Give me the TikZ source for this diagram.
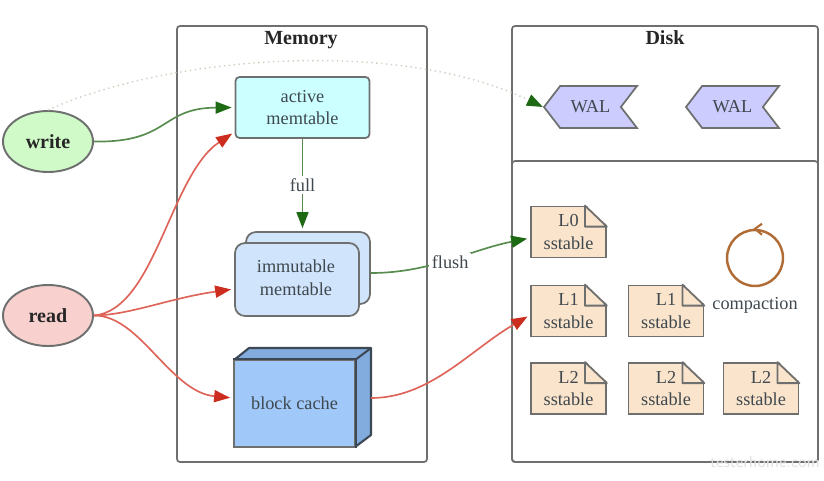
\documentclass[tikz,border=0pt]{standalone}
\usepackage{fontspec}
\setmainfont{Liberation Serif}
\usepackage{tikz}
\usetikzlibrary{shapes.geometric,shapes.symbols,arrows.meta,positioning,calc}
\definecolor{linegray}{RGB}{110,112,112}
\definecolor{textgray}{RGB}{62,72,78}
\definecolor{titleblack}{RGB}{38,38,38}
\definecolor{writegreen}{RGB}{208,250,200}
\definecolor{readred}{RGB}{248,208,206}
\definecolor{activecyan}{RGB}{204,255,255}
\definecolor{immutableblue}{RGB}{208,228,252}
\definecolor{cachefront}{RGB}{160,200,248}
\definecolor{cacheside}{RGB}{130,172,222}
\definecolor{cacheedge}{RGB}{62,72,84}
\definecolor{walviolet}{RGB}{204,204,255}
\definecolor{sstableorange}{RGB}{250,228,204}
\definecolor{tipgreen}{RGB}{30,105,20}
\definecolor{linegreen}{RGB}{88,140,78}
\definecolor{tipred}{RGB}{205,45,30}
\definecolor{linered}{RGB}{222,100,90}
\definecolor{dottedgray}{RGB}{205,208,190}
\definecolor{loopbrown}{RGB}{176,108,52}
\def\px{0.02cm}
\tikzset{
    basefont/.style={font=\fontsize{10.4}{13}\selectfont, text=textgray, align=center},
    groupbox/.style={draw=linegray, line width=1pt, rounded corners=0.06cm, inner sep=0pt},
    grouptitle/.style={font=\fontsize{11.4}{13}\selectfont\bfseries, text=titleblack, anchor=base},
    clientnode/.style={ellipse, draw=linegray, line width=1.1pt, minimum width=90*\px, minimum height=61*\px,
        inner sep=0pt, font=\fontsize{11.4}{13}\selectfont\bfseries, text=titleblack},
    tablebox/.style={basefont, draw=linegray, line width=1pt, inner sep=0pt},
    walbox/.style={basefont, signal, signal to=west, signal from=east, signal pointer angle=105, draw=linegray,
        line width=1pt, fill=walviolet, minimum width=93*\px, minimum height=42*\px, inner sep=0pt},
    sstablebox/.style={basefont, rectangle, draw=linegray, line width=1pt, fill=sstableorange, inner sep=0pt,
        minimum width=75*\px, minimum height=51*\px},
    greenarrow/.style={draw=linegreen, line width=0.95pt, -{Triangle[length=0.32cm,width=0.24cm,color=tipgreen]}, shorten >=3*\px},
    redarrow/.style={draw=linered, line width=0.95pt, -{Triangle[length=0.32cm,width=0.24cm,color=tipred]}, shorten >=3*\px},
    linklabel/.style={basefont, fill=white, inner sep=1.5pt}
}
\begin{document}
\begin{tikzpicture}[x=\px,y=-\px]
    \useasboundingbox (0,0) rectangle (824,480);
    % Groups
    \node[groupbox, minimum width=250*\px, minimum height=436*\px] (memorybox) at (302,244) {};
    \node[groupbox, minimum width=306*\px, minimum height=436*\px] (diskbox) at (665,244) {};
    \node[groupbox, minimum width=306*\px, minimum height=301*\px] (levelbox) at (665,311.5) {};
    \node[grouptitle] (memorytitle) at (301,44.5) {Memory};
    \node[grouptitle] (disktitle) at (665,44) {Disk};
    % Clients
    \node[clientnode, fill=writegreen] (write) at (48,141.5) {write};
    \node[clientnode, fill=readred] (read) at (48,315.5) {read};
    % Memtables
    \node[tablebox, fill=activecyan, rounded corners=0.08cm, minimum width=134*\px, minimum height=61*\px] (active) at (302.5,107.5) {active\\memtable};
    \node[tablebox, fill=immutableblue, rounded corners=0.2cm, minimum width=124*\px, minimum height=72*\px] (immback) at (308,268) {};
    \node[tablebox, fill=immutableblue, rounded corners=0.2cm, minimum width=124*\px, minimum height=73*\px] (immutable) at (297,279.5) {};
    \node[basefont] (immutablelabel) at (296,278) {immutable\\memtable};
    % Block cache
    \draw[draw=cacheedge, line width=1.2pt, fill=cacheside, line join=round] (234,360) -- (249,348) -- (371,348) -- (371,435) -- (355,447) -- (355,360) -- cycle;
    \draw[draw=cacheedge, line width=1.2pt] (355,360) -- (371,348);
    \node[tablebox, draw=linegray, fill=cachefront, minimum width=121*\px, minimum height=87*\px] (block) at (294.5,403.5) {block cache};
    \draw[draw=cacheedge, line width=1.5pt] (block.south east) -- (block.north east) -- (block.north west);
    \coordinate (blockout) at (371,398);
    % WAL
    \node[walbox] (walone) at (590.5,107) {WAL};
    \node[walbox] (waltwo) at (732.5,107) {WAL};
    % SSTables
    \node[sstablebox] (lzero) at (568.5,232) {L0\\sstable};
    \node[sstablebox] (loneA) at (568.5,311) {L1\\sstable};
    \node[sstablebox] (loneB) at (666,311) {L1\\sstable};
    \node[sstablebox] (ltwoA) at (568.5,388.5) {L2\\sstable};
    \node[sstablebox] (ltwoB) at (666,388.5) {L2\\sstable};
    \node[sstablebox] (ltwoC) at (761,388.5) {L2\\sstable};
    % Folded corners
    \foreach \n in {lzero,loneA,loneB,ltwoA,ltwoB,ltwoC} {
        \coordinate (foldtop) at ([xshift=-22*\px]\n.north east);
        \coordinate (foldside) at ([yshift=-21*\px]\n.north east);
        \fill[white] ([xshift=1pt,yshift=1pt]\n.north east) -- ([yshift=1pt]foldtop) -- ([xshift=1pt]foldside) -- cycle;
        \draw[draw=linegray, fill=sstableorange, line width=1pt, line join=round] (foldtop) -- (foldside) -- (foldtop |- foldside) -- cycle;
    }
    % Compaction
    \node[circle, draw=loopbrown, line width=1.4pt, minimum size=56*\px, inner sep=0pt] (loop) at (755,258) {};
    \draw[draw=loopbrown, line width=1.2pt] ([xshift=7*\px,yshift=5*\px]loop.north) -- (loop.north) -- ([xshift=7*\px,yshift=-6*\px]loop.north);
    \node[basefont] (compaction) at (755,305) {compaction};
    % Connectors
    \draw[greenarrow] (write.east) .. controls (170,143) and (160,108) .. (active.west);
    \draw[draw=dottedgray, line width=0.8pt, dotted, -{Triangle[length=0.32cm,width=0.24cm,color=tipgreen]}] (write.north) .. controls (170,55) and (400,38) .. (walone.west);
    \draw[greenarrow] (active.south) -- node[linklabel] (fulllabel) {full} (active.south |- immback.north);
    \draw[redarrow] (read.east) .. controls (155,310) and (170,175) .. ([yshift=7*\px]active.south west);
    \draw[redarrow] (read.east) .. controls (130,315) and (170,298) .. ([yshift=-9.5*\px]immutable.west);
    \draw[redarrow] (read.east) .. controls (140,315) and (170,392) .. ([yshift=5.5*\px]block.west);
    \draw[greenarrow] ([yshift=-5*\px]immback.east) .. controls (430,273) and (470,250) .. node[linklabel, yshift=-2*\px] (flushlabel) {flush} ([yshift=-6*\px]lzero.west);
    \draw[redarrow] (blockout) .. controls (430,398) and (470,350) .. ([yshift=-4*\px]loneA.west);
    % Watermark
    \node[font=\fontsize{9.2}{11}\selectfont\sffamily, text=black!12] (watermark) at (765,462) {testerhome.com};
\end{tikzpicture}
\end{document}
